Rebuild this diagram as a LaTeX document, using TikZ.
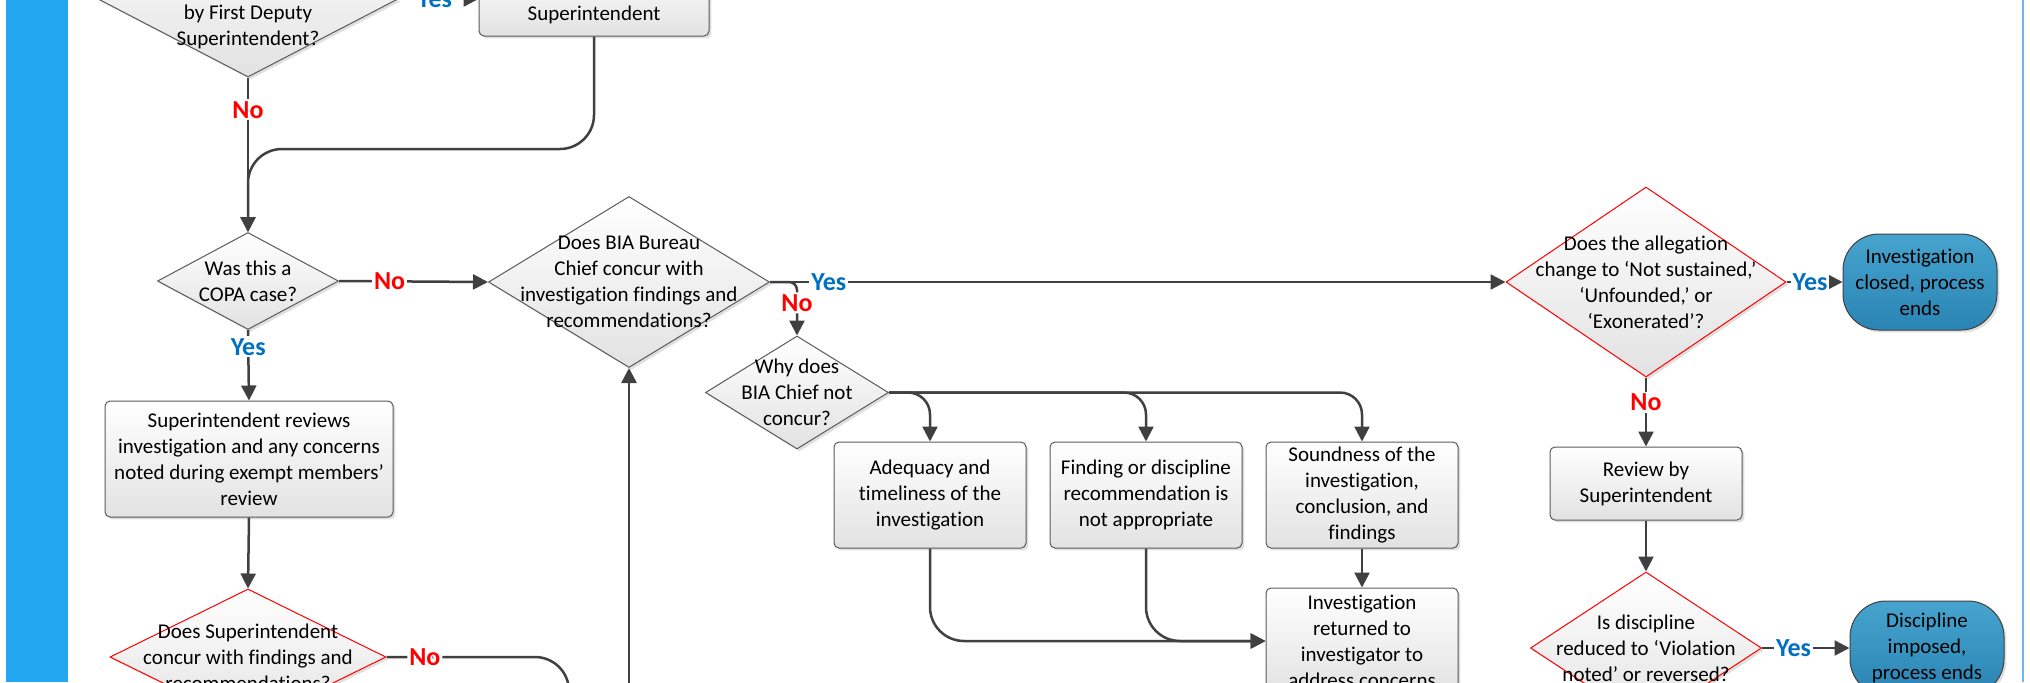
\documentclass[tikz,border=0pt]{standalone}
\usepackage{fontspec}
\setmainfont{Carlito}[Ligatures={TeX,NoCommon}]
\usetikzlibrary{shapes.geometric,arrows.meta,shadows}
\definecolor{bandblue}{RGB}{34,167,240}
\definecolor{edgeblue}{RGB}{110,185,235}
\definecolor{linegray}{RGB}{64,64,64}
\definecolor{boxline}{RGB}{90,90,90}
\definecolor{shadegray}{RGB}{226,226,226}
\definecolor{yesblue}{RGB}{0,112,192}
\definecolor{nored}{RGB}{255,0,0}
\definecolor{termtop}{RGB}{70,164,206}
\definecolor{termbot}{RGB}{42,132,180}
\begin{document}
\begin{tikzpicture}[x=0.5pt,y=-0.5pt,
  txt/.style={font=\fontsize{10.5}{13}\selectfont,align=center,inner sep=0pt},
  procbox/.style={draw=boxline,line width=.5pt,rounded corners=2.5pt,top color=white,bottom color=shadegray,
    drop shadow={shadow xshift=1.2pt,shadow yshift=-1.2pt,opacity=.25},txt,minimum width=96pt,minimum height=53pt},
  decision/.style={diamond,draw=boxline,line width=.5pt,top color=white,bottom color=shadegray,inner sep=0pt,
    drop shadow={shadow xshift=1.2pt,shadow yshift=-1.2pt,opacity=.25}},
  reddecision/.style={decision,draw=nored},
  endterm/.style={draw=linegray,line width=.5pt,rounded corners=18pt,top color=termtop,bottom color=termbot,
    drop shadow={shadow xshift=1.2pt,shadow yshift=-1.2pt,opacity=.25},txt,minimum width=77pt,minimum height=48pt},
  conn/.style={draw=linegray,line width=1.25pt,-{Triangle[length=7.5pt,width=7.5pt]}},
  yeslbl/.style={font=\fontsize{13}{15}\selectfont\bfseries,text=yesblue,fill=white,inner sep=1pt},
  nolbl/.style={yeslbl,text=nored}]
\useasboundingbox (0,0) rectangle (2030,682);
\clip (0,0) rectangle (2030,682);
\fill[bandblue] (6,0) rectangle (68,682);
\draw[edgeblue,line width=.75pt] (2023,0) -- (2023,682);
\coordinate (biain) at (629,730);
\coordinate (supcout) at (569,730);
\node[decision,minimum width=150pt,minimum height=78pt] (fds) at (248,-1) {};
\node[txt] (fdstxt) at (248,27) {by First Deputy\\Superintendent?};
\node[procbox,minimum width=115pt,minimum height=37pt] (supr) at (594,-1) {};
\node[txt] (suprtxt) at (594,15) {Superintendent};
\node[decision,minimum width=90.5pt,minimum height=48.5pt,label={[txt]center:{Was this a\\COPA case?}}] (copa) at (248,281) {};
\node[decision,minimum width=140.5pt,minimum height=85.5pt,label={[txt]center:{Does BIA Bureau\\Chief concur with\\investigation findings and\\recommendations?}}] (bia) at (629,282) {};
\node[procbox,minimum width=144pt,minimum height=58pt] (rev) at (249,459) {Superintendent reviews\\investigation and any concerns\\noted during exempt members’\\review};
\node[reddecision,minimum width=138pt,minimum height=68pt,label={[txt]center:{Does Superintendent\\concur with findings and\\recommendations?}}] (supc) at (248,657) {};
\node[decision,minimum width=91.5pt,minimum height=56.5pt,label={[txt]center:{Why does\\BIA Chief not\\concur?}}] (why) at (797,392.5) {};
\node[procbox] (adeq) at (930,495) {Adequacy and\\timeliness of the\\investigation};
\node[procbox] (find) at (1146,495) {Finding or discipline\\recommendation is\\not appropriate};
\node[procbox] (sound) at (1362,495) {Soundness of the\\investigation,\\conclusion, and\\findings};
\node[procbox] (ret) at (1362,641) {Investigation\\returned to\\investigator to\\address concerns};
\node[reddecision,minimum width=140pt,minimum height=95pt,label={[txt]center:{Does the allegation\\change to ‘Not sustained,’\\‘Unfounded,’ or\\‘Exonerated’?}}] (alleg) at (1646,282) {};
\node[endterm] (closed) at (1920,282) {Investigation\\closed, process\\ends};
\node[procbox,minimum height=36.5pt] (revsup) at (1646,483.5) {Review by\\Superintendent};
\node[reddecision,minimum width=115.5pt,minimum height=76pt,label={[txt]center:{Is discipline\\reduced to ‘Violation\\noted’ or reversed?}}] (disc) at (1646,648) {};
\node[endterm,minimum height=47pt] (imposed) at (1927,648) {Discipline\\imposed,\\process ends};
\draw[conn] (fds.east) -- node[yeslbl,pos=.45]{Yes} (supr.west);
\draw[conn] (fds.south) -- node[nolbl,pos=.21]{No} (copa.north);
\draw[conn,rounded corners=17pt] (supr.south) -- (594,149) -- (248,149) -- (copa.north);
\draw[conn] (copa.east) -- node[nolbl,pos=.34]{No} (bia.west);
\draw[conn] (copa.south) -- node[yeslbl,pos=.24]{Yes} (rev.north);
\draw[conn] (rev.south) -- (supc.north);
\draw[conn,rounded corners=17pt] (supc.east) -- node[nolbl,pos=.21]{No} (569,657) -- (supcout);
\draw[conn] (biain) -- (bia.south);
\draw[conn] (bia.east) -- node[yeslbl,pos=.08]{Yes} (alleg.west);
\draw[conn,rounded corners=4pt] (bia.east) -- (797,282) -- node[nolbl,pos=.39]{No} (why.north);
\draw[conn,rounded corners=11pt] (why.east) -- (adeq.north |- why.east) -- (adeq.north);
\draw[conn,rounded corners=11pt] (why.east) -- (find.north |- why.east) -- (find.north);
\draw[conn,rounded corners=11pt] (why.east) -- (sound.north |- why.east) -- (sound.north);
\draw[conn] (sound.south) -- (ret.north);
\draw[conn,rounded corners=17pt] (adeq.south) -- (adeq.south |- ret.west) -- (ret.west);
\draw[conn,rounded corners=17pt] (find.south) -- (find.south |- ret.west) -- (ret.west);
\draw[conn] (alleg.east) -- node[yeslbl,pos=.42]{Yes} (closed.west);
\draw[conn] (alleg.south) -- node[nolbl,pos=.36]{No} (revsup.north);
\draw[conn] (revsup.south) -- (disc.north);
\draw[conn] (disc.east) -- node[yeslbl,pos=.36]{Yes} (imposed.west);
\end{tikzpicture}
\end{document}
